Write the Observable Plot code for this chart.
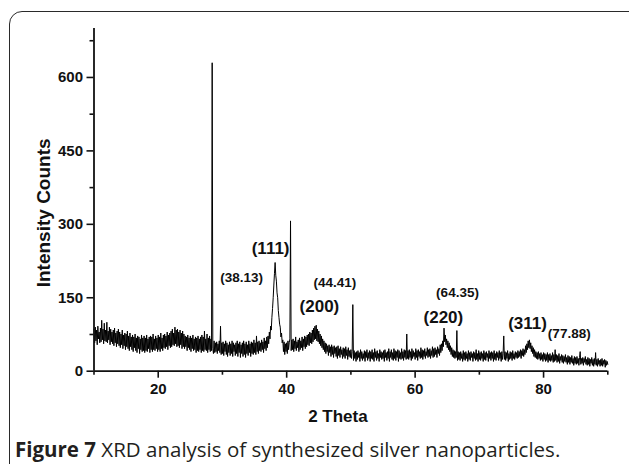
<!DOCTYPE html>
<html>
<head>
<meta charset="utf-8">
<script src="https://cdn.jsdelivr.net/npm/d3@7"></script>
<script src="https://cdn.jsdelivr.net/npm/@observablehq/plot@0.6"></script>
<style>
  html, body { margin: 0; padding: 0; background: #fff; }
  #wrap { position: relative; width: 629px; height: 464px; overflow: hidden; background: #fff; }
  #frame { position: absolute; left: 9px; top: 11px; width: 700px; height: 520px;
           border: 1.6px solid #2a2a2a; border-radius: 13px; box-sizing: border-box; }
  #chart { position: absolute; left: 0; top: 0; }
  #caption { position: absolute; left: 15px; top: 435px; font-family: "Open Sans", sans-serif;
             font-size: 20.5px; line-height: 28px; color: #231f20; white-space: nowrap; }
  #caption b { font-weight: 700; }
</style>
</head>
<body>
<div id="wrap">
  <div id="frame"></div>
  <div id="chart"></div>
  <div id="caption"><b>Figure 7</b> XRD analysis of synthesized silver nanoparticles.</div>
</div>
<script>
// XRD scan: 2θ from 10° to 90°, one reading every 0.1° (each row = one degree)
const scanStart = 10;
const scanStep = 0.1;
const intensity = [
  86, 58, 90, 62, 84, 54, 92, 66, 80, 58,      // 10
  88, 60, 104, 64, 86, 56, 98, 62, 84, 60,     // 11
  100, 58, 82, 64, 90, 54, 86, 60, 80, 56,     // 12
  84, 52, 88, 58, 78, 50, 82, 56, 86, 52,      // 13
  80, 48, 76, 54, 84, 46, 74, 52, 78, 44,      // 14
  76, 50, 82, 46, 72, 42, 78, 50, 70, 44,      // 15
  74, 40, 70, 48, 76, 42, 68, 38, 72, 46,      // 16
  70, 36, 66, 44, 74, 40, 68, 42, 72, 38,      // 17
  68, 42, 74, 40, 66, 46, 70, 38, 72, 44,      // 18
  70, 40, 76, 44, 66, 42, 72, 46, 68, 40,      // 19
  74, 44, 70, 40, 78, 46, 68, 42, 74, 48,      // 20
  76, 46, 72, 50, 80, 44, 74, 52, 78, 48,      // 21
  82, 50, 86, 54, 78, 52, 90, 56, 84, 50,      // 22
  86, 52, 80, 48, 84, 54, 78, 46, 82, 50,      // 23
  76, 46, 72, 50, 70, 42, 74, 48, 68, 44,      // 24
  72, 40, 68, 46, 74, 42, 66, 44, 70, 38,      // 25
  68, 42, 72, 40, 66, 44, 70, 38, 74, 42,      // 26
  70, 40, 82, 44, 66, 42, 76, 38, 68, 44,      // 27
  72, 40, 66, 42, 630, 46, 36, 62, 38, 58,     // 28
  40, 60, 36, 56, 42, 62, 38, 92, 34, 58,      // 29
  36, 60, 32, 56, 40, 62, 34, 58, 30, 54,      // 30
  38, 60, 32, 56, 36, 62, 30, 58, 40, 54,      // 31
  32, 58, 36, 62, 30, 56, 38, 60, 28, 54,      // 32
  36, 58, 30, 62, 34, 56, 28, 60, 36, 54,      // 33
  32, 62, 38, 56, 30, 60, 36, 58, 34, 64,      // 34
  38, 58, 34, 72, 40, 60, 36, 62, 42, 58,      // 35
  40, 64, 44, 60, 38, 68, 46, 62, 42, 70,      // 36
  48, 72, 56, 80, 66, 92, 84, 110, 128, 150,   // 37
  176, 200, 222, 196, 184, 160, 150, 124, 110, 96, // 38
  90, 70, 78, 58, 64, 40, 60, 34, 56, 40,      // 39
  58, 36, 62, 44, 58, 66, 307, 42, 64, 44,     // 40
  66, 40, 62, 46, 70, 42, 60, 48, 64, 40,      // 41
  68, 44, 62, 48, 70, 42, 66, 50, 72, 46,      // 42
  70, 50, 74, 54, 76, 52, 80, 58, 78, 56,      // 43
  84, 60, 88, 64, 92, 66, 94, 62, 86, 60,      // 44
  82, 56, 76, 52, 72, 48, 66, 44, 62, 40,      // 45
  58, 36, 56, 40, 52, 32, 54, 38, 50, 30,      // 46
  54, 34, 50, 28, 52, 36, 48, 30, 50, 26,      // 47
  52, 32, 46, 28, 50, 34, 44, 26, 48, 30,      // 48
  46, 26, 50, 32, 44, 24, 48, 30, 42, 28,      // 49
  44, 26, 40, 136, 22, 42, 26, 38, 20, 40,     // 50
  24, 42, 28, 38, 20, 44, 26, 40, 22, 36,      // 51
  26, 42, 20, 40, 28, 44, 22, 38, 26, 42,      // 52
  20, 40, 26, 44, 24, 38, 20, 46, 28, 40,      // 53
  22, 42, 26, 36, 20, 44, 28, 40, 24, 38,      // 54
  26, 42, 20, 44, 28, 38, 22, 40, 26, 46,      // 55
  20, 40, 28, 44, 24, 38, 22, 46, 26, 42,      // 56
  22, 40, 28, 44, 20, 42, 26, 38, 24, 46,      // 57
  26, 40, 22, 44, 28, 42, 24, 76, 26, 42,      // 58
  24, 44, 28, 40, 22, 46, 26, 42, 30, 38,      // 59
  24, 46, 28, 42, 22, 44, 30, 40, 26, 48,      // 60
  28, 44, 24, 42, 30, 46, 26, 40, 32, 48,      // 61
  28, 44, 30, 46, 26, 42, 32, 50, 28, 46,      // 62
  30, 48, 34, 44, 28, 50, 36, 46, 32, 54,      // 63
  38, 56, 42, 62, 50, 88, 60, 74, 54, 66,      // 64
  48, 62, 44, 58, 40, 52, 34, 48, 30, 44,      // 65
  28, 42, 26, 40, 28, 83, 22, 40, 24, 38,      // 66
  22, 40, 26, 36, 20, 42, 24, 38, 22, 40,      // 67
  26, 36, 20, 42, 24, 38, 22, 40, 28, 36,      // 68
  20, 40, 26, 38, 22, 44, 24, 36, 20, 42,      // 69
  24, 38, 22, 40, 26, 36, 20, 42, 24, 38,      // 70
  22, 40, 28, 36, 20, 42, 26, 38, 22, 40,      // 71
  26, 38, 20, 42, 24, 36, 22, 40, 28, 38,      // 72
  22, 42, 26, 38, 20, 40, 24, 36, 72, 24,      // 73
  40, 22, 38, 26, 42, 20, 36, 24, 40, 26,      // 74
  38, 22, 42, 26, 36, 24, 40, 28, 38, 26,      // 75
  42, 28, 40, 30, 44, 26, 42, 32, 46, 30,      // 76
  44, 34, 52, 38, 56, 44, 62, 48, 64, 46,      // 77
  58, 40, 52, 36, 48, 30, 44, 28, 40, 26,      // 78
  38, 24, 40, 26, 36, 22, 38, 24, 34, 20,      // 79
  38, 24, 36, 20, 34, 22, 38, 18, 34, 22,      // 80
  36, 20, 32, 22, 38, 18, 34, 20, 44, 22,      // 81
  34, 18, 32, 20, 36, 16, 30, 22, 34, 18,      // 82
  32, 16, 30, 20, 34, 18, 28, 14, 32, 18,      // 83
  30, 14, 28, 18, 32, 16, 26, 12, 30, 16,      // 84
  28, 14, 30, 16, 26, 12, 28, 40, 14, 26,      // 85
  16, 28, 12, 26, 18, 30, 14, 24, 12, 28,      // 86
  14, 26, 10, 24, 16, 28, 12, 24, 10, 26,      // 87
  14, 38, 12, 24, 10, 26, 14, 22, 10, 24,      // 88
  12, 26, 10, 22, 14, 24, 8, 22, 12, 20,       // 89
  14                                           // 90
];

// Axis ticks
const xMajorTicks = [20, 40, 60, 80];
const xMinorTicks = [10, 30, 50, 70, 90];
const yMajorTicks = [0, 150, 300, 450, 600];
const yMinorTicks = [75, 225, 375, 525, 675];

// Peak annotations
const peakLabels = ["(111)", "(38.13)", "(200)", "(44.41)", "(220)", "(64.35)", "(311)", "(77.88)"];
const peakLabelX = [37.5, 33.0, 45.1, 47.5, 64.4, 66.6, 77.5, 84.0];
const peakLabelY = [250, 191, 132, 181, 110, 160, 97, 77];
const peakLabelKind = ["hkl", "pos", "hkl", "pos", "hkl", "pos", "hkl", "pos"];

const data = intensity.map((v, i) => ({theta: scanStart + i * scanStep, counts: v}));
const labels = peakLabels.map((t, i) => ({text: t, x: peakLabelX[i], y: peakLabelY[i], kind: peakLabelKind[i]}));

const sans = "'Liberation Sans', Arial, sans-serif";
const ink = "#111";

const plot = Plot.plot({
  width: 629,
  height: 430,
  marginLeft: 93.5,
  marginRight: 21.7,
  marginTop: 28,
  marginBottom: 59.3,
  style: {background: "transparent", color: ink, fontFamily: sans},
  x: {domain: [10, 90]},
  y: {domain: [0, 700]},
  marks: [
    Plot.line(data, {x: "theta", y: "counts", stroke: "#000", strokeWidth: 1}),
    Plot.axisX(xMinorTicks, {tickSize: 4, tickFormat: () => "", label: null, strokeWidth: 1.6}),
    Plot.axisX(xMajorTicks, {tickSize: 7, tickPadding: 5, tickFormat: d => d, label: null,
      fontSize: 15, fontWeight: "bold", fontFamily: sans, strokeWidth: 1.6}),
    Plot.axisY(yMinorTicks, {tickSize: 4, tickFormat: () => "", label: null, strokeWidth: 1.6}),
    Plot.axisY(yMajorTicks, {tickSize: 7, tickPadding: 4, tickFormat: d => d, label: null,
      fontSize: 15, fontWeight: "bold", fontFamily: sans, strokeWidth: 1.6}),
    Plot.ruleX([10], {y1: 0, y2: 700, stroke: ink, strokeWidth: 1.8}),
    Plot.ruleY([0], {x1: 10, x2: 90, stroke: ink, strokeWidth: 1.8}),
    Plot.text(labels.filter(d => d.kind === "hkl"), {x: "x", y: "y", text: "text",
      fontSize: 17, fontWeight: "bold", fontFamily: sans, fill: ink}),
    Plot.text(labels.filter(d => d.kind === "pos"), {x: "x", y: "y", text: "text",
      fontSize: 13.5, fontWeight: "bold", fontFamily: sans, fill: ink}),
    Plot.text(["2 Theta"], {frameAnchor: "bottom", lineAnchor: "middle", textAnchor: "middle",
      dx: -13, dy: 45, fontSize: 17, fontWeight: "bold", fontFamily: sans, fill: ink}),
    Plot.text(["Intensity Counts"], {frameAnchor: "left", lineAnchor: "middle", textAnchor: "middle",
      rotate: -90, dx: -50.5, dy: 13, fontSize: 19, fontWeight: "bold", fontFamily: sans, fill: ink})
  ]
});
document.getElementById("chart").appendChild(plot);
</script>
</body>
</html>
